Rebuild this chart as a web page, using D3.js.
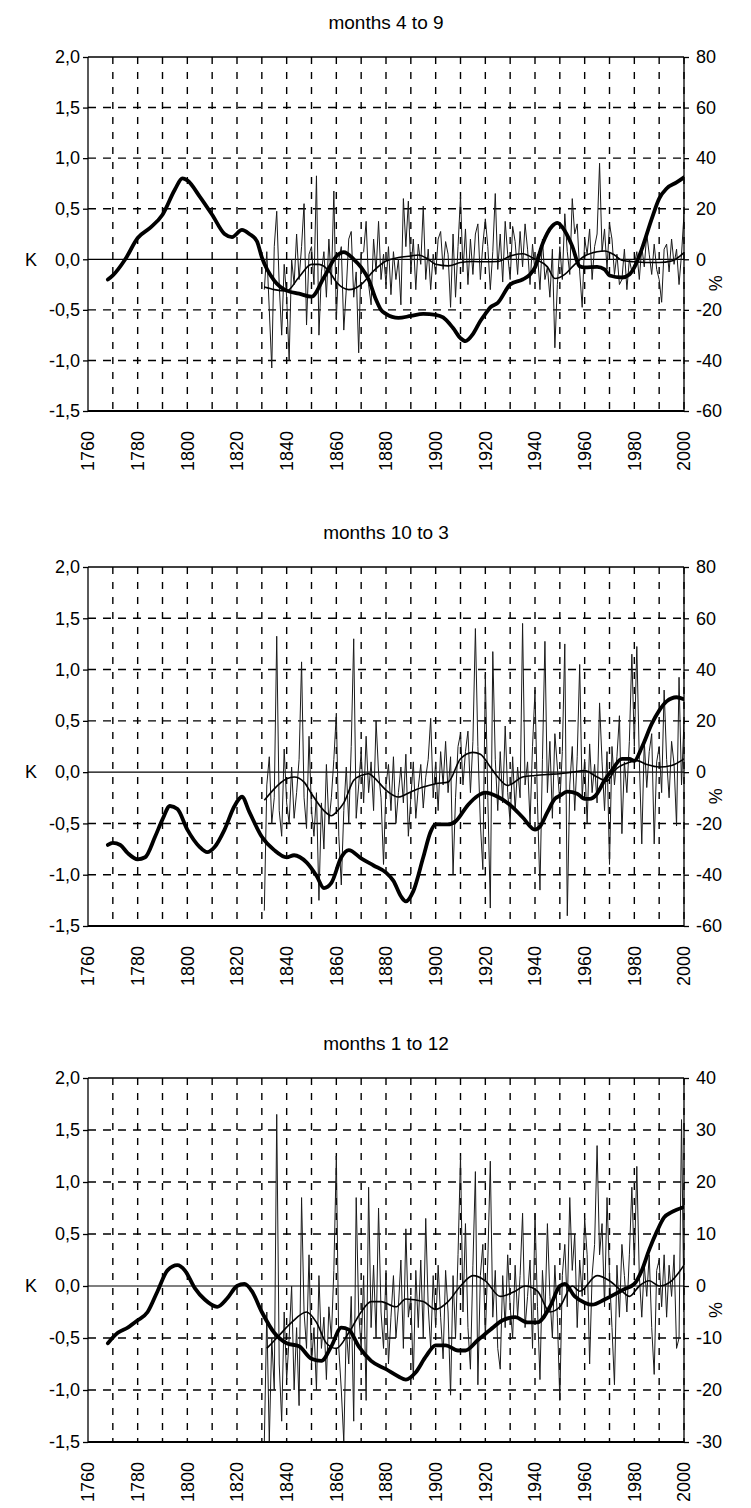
<!DOCTYPE html>
<html>
<head>
<meta charset="utf-8">
<script src="https://cdn.jsdelivr.net/npm/d3@7"></script>
<style>
body { margin: 0; background: #fff; }
svg { display: block; font-family: "Liberation Sans", Arial, sans-serif; }
</style>
</head>
<body>
<div id="chart"></div>
<script>
// tick labels and titles
var xTickLabels = [1760, 1780, 1800, 1820, 1840, 1860, 1880, 1900, 1920, 1940, 1960, 1980, 2000];
var gridYears = d3.range(1770, 2001, 10);
var kTicks = [2, 1.5, 1, 0.5, 0, -0.5, -1, -1.5];
var pctTicksHalf = [80, 60, 40, 20, 0, -20, -40, -60];
var pctTicksYear = [40, 30, 20, 10, 0, -10, -20, -30];
var titles = ["months 4 to 9", "months 10 to 3", "months 1 to 12"];
var firstPrecipYear = 1831;

// months 4 to 9 : smoothed temperature (K)
var tempYears1 = [1768,1770,1775,1780,1785,1790,1795,1798,1800,1805,1810,1815,1818,1822,1825,1828,1830,1835,1840,1845,1850,1855,1860,1863,1867,1870,1873,1876,1878,1880,1885,1890,1895,1900,1903,1907,1910,1912,1915,1918,1920,1922,1925,1930,1935,1938,1940,1943,1947,1949,1952,1955,1958,1960,1965,1968,1970,1975,1978,1980,1983,1987,1990,1993,1997,2000];
var temp1 = [-0.2,-0.16,0,0.21,0.31,0.44,0.69,0.8,0.78,0.62,0.44,0.25,0.22,0.29,0.25,0.18,0.02,-0.21,-0.31,-0.34,-0.37,-0.18,0.03,0.07,0,-0.08,-0.2,-0.4,-0.5,-0.54,-0.58,-0.56,-0.54,-0.55,-0.575,-0.68,-0.78,-0.81,-0.74,-0.61,-0.54,-0.475,-0.43,-0.25,-0.2,-0.15,-0.08,0.15,0.33,0.36,0.28,0.13,-0.07,-0.08,-0.075,-0.1,-0.16,-0.18,-0.15,-0.08,0.1,0.4,0.6,0.7,0.76,0.81];
// months 4 to 9 : smoothed precipitation (%)
var smoothYears1 = [1831,1835,1840,1845,1850,1853,1857,1860,1865,1870,1875,1880,1885,1890,1893,1897,1900,1905,1910,1915,1920,1925,1930,1935,1940,1945,1948,1952,1955,1960,1965,1968,1972,1975,1980,1985,1990,1995,2000];
var smooth1 = [-11,-12,-12.5,-7,-2,-2,-4.6,-9,-12,-10,-4.6,-0.7,0.7,1.3,1.7,0,-2,-2.6,-1.3,-0.9,-1,-0.9,1.3,2.2,0,-3,-7.6,-6,-3,1.3,3,3.3,1.7,-0.4,-1,-1.3,-1.3,-0.7,2.6];
// months 4 to 9 : yearly precipitation (%), 1831-2000
var precip1 = [
  -12, 3, -20, -43, 5, 19, -10, -30, -2, -15,
  -40, 0, -10, 10, -8, 5, 22, -26, 2, 5,
  -10, 33, -30, -5, 3, -15, 8, -10, 27, -24,
  0, 5, -28, -12, 8, 11, -15, -5, -37, 2,
  3, 15, -10, -18, 8, -5, 15, -8, 2, -10,
  5, -14, 3, -8, 0, -18, 24, 5, 23, -5,
  8, -12, 6, -2, 21, -8, 4, -12, 2, -6,
  8, 11, -4, 7, 2, -19, 10, -15, 5, 25,
  -5, 12, -10, 8, -6, 10, 14, -8, 6, 16,
  5, -12, 3, 26, -4, 10, -9, 15, 2, -8,
  13, 7, -6, 11, -3, 14, 4, -10, 6, -5,
  2, -12, 8, -8, -3, -15, 4, -35, -10, 5,
  -8, 18, 3, -6, 24, 10, 14, -5, -19, 8,
  2, 12, -8, 5, 10, 38, 3, 12, -4, 14,
  8, -6, 2, -10, -8, 4, -12, 0, -5, -2,
  3, -8, 5, -3, 10, 2, -6, 6, -4, -8,
  -17, 4, 6, -5, 8, -2, 4, -10, 2, 18
];

// months 10 to 3
var tempYears2 = [1768,1770,1773,1776,1780,1783,1787,1790,1793,1796,1800,1805,1808,1811,1815,1819,1822,1825,1830,1835,1840,1843,1848,1852,1855,1858,1862,1865,1870,1875,1880,1883,1886,1888,1891,1895,1898,1900,1905,1908,1913,1917,1920,1925,1930,1935,1940,1942,1945,1948,1950,1953,1957,1960,1962,1965,1968,1971,1975,1978,1980,1983,1987,1990,1993,1997,2000];
var temp2 = [-0.71,-0.69,-0.71,-0.79,-0.85,-0.83,-0.63,-0.46,-0.33,-0.36,-0.56,-0.73,-0.78,-0.73,-0.56,-0.33,-0.24,-0.39,-0.63,-0.76,-0.83,-0.81,-0.88,-1.01,-1.13,-1.08,-0.83,-0.76,-0.84,-0.91,-0.98,-1.06,-1.21,-1.26,-1.16,-0.83,-0.58,-0.51,-0.51,-0.48,-0.32,-0.23,-0.2,-0.24,-0.32,-0.44,-0.56,-0.53,-0.39,-0.26,-0.23,-0.19,-0.21,-0.26,-0.26,-0.21,-0.08,0.02,0.13,0.13,0.11,0.24,0.47,0.6,0.69,0.73,0.71];
var smoothYears2 = [1831,1835,1840,1843,1847,1850,1855,1858,1860,1863,1867,1870,1873,1875,1880,1885,1890,1895,1900,1905,1910,1915,1918,1922,1925,1929,1935,1940,1945,1950,1955,1960,1965,1969,1972,1977,1981,1985,1990,1995,2000];
var smooth2 = [-11,-6.5,-2.6,-1.9,-3.9,-8.4,-15,-17,-15.6,-12,-3.2,-1.3,-0.6,-1.9,-7,-9.7,-7.7,-5.8,-4.5,-3.9,5.2,7.7,7,2,-1.9,-5.2,-1.9,-1.3,-0.9,-0.6,0,0.6,-1.9,-3.5,0.6,3.5,4.5,3,2,2.6,5.2];
var precip2 = [
  -54, -5, 6, -20, -10, 53, -15, -25, 9, -12,
  -20, 2, -18, -8, 5, 43, -10, -22, 14, -15,
  -25, -8, -50, -12, -30, 3, -20, -10, 5, 23,
  -25, -44, -15, 2, -20, 10, 52, -18, -5, 8,
  -12, 14, -8, 4, -15, 20, 0, -10, -36, -5,
  3, -15, 6, -20, -8, 2, -12, 7, -25, -10,
  4, -18, -6, 3, -14, -2, 5, 21, -10, 4,
  -15, 8, -5, 12, -8, 6, -40, -10, 10, 15,
  -5, 8, 16, -8, 12, 56, 10, -20, -38, 38,
  -10, -53, 47, 5, -15, 8, -12, 18, -8, -20,
  6, -15, 2, -10, 58, -5, 4, -20, 10, 32,
  -12, -46, 5, 51, -8, 12, -18, 15, 2, -12,
  8, 50, -56, -5, 10, -15, 6, 42, -10, 5,
  -20, 11, -8, 3, -12, 27, 4, -15, 8, -36,
  10, -5, 6, 22, -24, 4, -8, 12, 46, 10,
  49, 5, -28, 12, -6, 8, 15, -28, 4, 10,
  -8, 32, 5, -10, 12, 3, -21, 37, -5, 20
];

// months 1 to 12
var tempYears3 = [1768,1772,1776,1780,1784,1788,1792,1796,1799,1803,1807,1812,1816,1820,1823,1826,1830,1835,1840,1845,1850,1854,1858,1862,1865,1869,1874,1880,1885,1888,1892,1896,1900,1904,1909,1912,1917,1922,1927,1932,1937,1941,1946,1950,1952,1956,1960,1963,1968,1972,1976,1980,1983,1986,1989,1992,1995,2000];
var temp3 = [-0.55,-0.45,-0.4,-0.33,-0.25,-0.05,0.15,0.2,0.15,-0.02,-0.13,-0.2,-0.12,0,0.02,-0.05,-0.25,-0.45,-0.55,-0.58,-0.7,-0.72,-0.58,-0.4,-0.42,-0.58,-0.72,-0.8,-0.87,-0.9,-0.83,-0.68,-0.57,-0.57,-0.62,-0.62,-0.52,-0.42,-0.33,-0.3,-0.35,-0.35,-0.2,0,0.02,-0.1,-0.16,-0.18,-0.13,-0.08,-0.03,0.02,0.15,0.35,0.52,0.66,0.71,0.76];
var smoothYears3 = [1832,1836,1842,1848,1852,1856,1860,1865,1870,1874,1878,1884,1888,1895,1900,1905,1910,1915,1920,1926,1932,1936,1941,1946,1950,1955,1958,1965,1970,1975,1978,1982,1986,1990,1995,2000];
var smooth3 = [-12,-10,-7,-5,-7,-11,-12,-9,-5,-3,-3,-4,-2.5,-3,-4.5,-3,0,2,1,-2,-1,0,-1,-5,-4,0,-1,2,1,-1,-2,0,1,0,1,4];
var precip3 = [
  -30, -5, -30, -10, -20, 33, -15, -26, -5, -18,
  -10, 0, -20, -8, -23, 17, -5, -12, 6, -15,
  -8, -20, 2, -12, -6, -18, -4, -10, 3, 25,
  -12, -20, -30, -8, -15, -2, -26, 17, -5, -12,
  2, -22, 19, -8, 4, -10, 15, -5, -12, 3,
  -15, -6, 2, -10, -4, 5, -12, 11, -6, -2,
  -18, 3, -8, 5, -10, 13, -4, -12, 2, -8,
  4, -6, -14, 3, -5, -21, 2, -10, 6, 25,
  -5, 12, -8, -16, 4, 22, -19, 2, 8, -10,
  5, 24, -6, 3, -12, -16, 2, -8, 6, -4,
  -10, 4, -6, 2, 14, -8, -2, 5, -12, 14,
  -4, -18, 3, -6, 12, -2, -10, 4, -6, -22,
  2, 8, -4, 17, 3, 10, -8, 5, -2, 13,
  6, -15, 2, 8, 27, 6, 12, -4, 17, 2,
  -8, -19, 4, -6, 8, 2, -5, 6, 19, 4,
  23, 2, -6, 4, -2, 6, -8, -17, 3, 5,
  -4, 6, -6, 4, -2, 6, -12, -10, 32, -5
];

var panels = [
  {title: titles[0], top: 57, height: 354, pctMin: -60, pctMax: 80, pctTicks: pctTicksHalf,
   tYears: tempYears1, temp: temp1, sYears: smoothYears1, smooth: smooth1, precip: precip1},
  {title: titles[1], top: 567, height: 359, pctMin: -60, pctMax: 80, pctTicks: pctTicksHalf,
   tYears: tempYears2, temp: temp2, sYears: smoothYears2, smooth: smooth2, precip: precip2},
  {title: titles[2], top: 1078, height: 364, pctMin: -30, pctMax: 40, pctTicks: pctTicksYear,
   tYears: tempYears3, temp: temp3, sYears: smoothYears3, smooth: smooth3, precip: precip3}
];

var svg = d3.select("#chart")
    .append("svg")
    .attr("width", 751)
    .attr("height", 1508);

var x = d3.scaleLinear().domain([1760, 2000]).range([88, 684]);
var loc = d3.formatLocale({decimal: ",", thousands: ".", grouping: [3], currency: ["", ""], minus: "-"});
var fmtK = loc.format(".1f");
var fmtP = loc.format("d");

panels.forEach(function(p, i) {
    var bottom = p.top + p.height;
    var yK = d3.scaleLinear().domain([-1.5, 2]).range([bottom, p.top]);
    var yP = d3.scaleLinear().domain([p.pctMin, p.pctMax]).range([bottom, p.top]);
    var g = svg.append("g");

    g.append("clipPath").attr("id", "clip" + i)
        .append("rect")
        .attr("x", x(1760)).attr("y", p.top)
        .attr("width", x(2000) - x(1760)).attr("height", p.height);

    g.append("text")
        .attr("x", (x(1760) + x(2000)) / 2)
        .attr("y", p.top - 28)
        .attr("text-anchor", "middle")
        .attr("font-size", 19)
        .text(p.title);

    // dashed grid
    g.selectAll(".hgrid")
        .data(kTicks.filter(function(d) { return d !== 0 && d !== 2 && d !== -1.5; }))
        .join("line")
        .attr("x1", x(1760)).attr("x2", x(2000))
        .attr("y1", function(d) { return yK(d); })
        .attr("y2", function(d) { return yK(d); })
        .attr("stroke", "#000").attr("stroke-width", 1.4)
        .attr("stroke-dasharray", "8,7");

    g.selectAll(".vgrid")
        .data(gridYears)
        .join("line")
        .attr("x1", function(d) { return x(d); })
        .attr("x2", function(d) { return x(d); })
        .attr("y1", p.top).attr("y2", bottom)
        .attr("stroke", "#000").attr("stroke-width", 1.4)
        .attr("stroke-dasharray", "7,8");

    g.append("line")
        .attr("x1", x(1760)).attr("x2", x(2000))
        .attr("y1", yK(0)).attr("y2", yK(0))
        .attr("stroke", "#000").attr("stroke-width", 1.2);

    var plot = g.append("g").attr("clip-path", "url(#clip" + i + ")");

    // yearly precipitation
    var rough = d3.line()
        .x(function(d, j) { return x(firstPrecipYear + j); })
        .y(function(d) { return yP(d); });
    plot.append("path")
        .datum(p.precip)
        .attr("d", rough)
        .attr("fill", "none")
        .attr("stroke", "#1a1a1a")
        .attr("stroke-width", 1)
        .attr("stroke-linejoin", "round");

    // smoothed precipitation
    var smoothLine = d3.line()
        .x(function(d, j) { return x(p.sYears[j]); })
        .y(function(d) { return yP(d); })
        .curve(d3.curveMonotoneX);
    plot.append("path")
        .datum(p.smooth)
        .attr("d", smoothLine)
        .attr("fill", "none")
        .attr("stroke", "#000")
        .attr("stroke-width", 1.6);

    // smoothed temperature
    var tempLine = d3.line()
        .x(function(d, j) { return x(p.tYears[j]); })
        .y(function(d) { return yK(d); })
        .curve(d3.curveMonotoneX);
    plot.append("path")
        .datum(p.temp)
        .attr("d", tempLine)
        .attr("fill", "none")
        .attr("stroke", "#000")
        .attr("stroke-width", 3.8)
        .attr("stroke-linejoin", "round")
        .attr("stroke-linecap", "round");

    // frame
    g.append("line").attr("x1", x(1760)).attr("x2", x(2000)).attr("y1", p.top).attr("y2", p.top)
        .attr("stroke", "#000").attr("stroke-width", 1.5);
    g.append("line").attr("x1", x(1760)).attr("x2", x(2000)).attr("y1", bottom).attr("y2", bottom)
        .attr("stroke", "#000").attr("stroke-width", 2.2);
    g.append("line").attr("x1", x(1760)).attr("x2", x(1760)).attr("y1", p.top).attr("y2", bottom)
        .attr("stroke", "#000").attr("stroke-width", 1.3);
    g.append("line").attr("x1", x(2000)).attr("x2", x(2000)).attr("y1", p.top).attr("y2", bottom)
        .attr("stroke", "#000").attr("stroke-width", 1.3);

    // axes
    var left = g.append("g")
        .attr("transform", "translate(" + x(1760) + ",0)")
        .call(d3.axisLeft(yK).tickValues(kTicks).tickFormat(fmtK).tickSize(5).tickPadding(3));
    var right = g.append("g")
        .attr("transform", "translate(" + x(2000) + ",0)")
        .call(d3.axisRight(yP).tickValues(p.pctTicks).tickFormat(fmtP).tickSize(5).tickPadding(7));
    [left, right].forEach(function(a) {
        a.select(".domain").remove();
        a.attr("font-size", 18).attr("font-family", null);
        a.selectAll("text").attr("fill", "#000");
        a.selectAll("line").attr("stroke", "#000").attr("stroke-width", 1.3);
    });

    g.selectAll(".xlab")
        .data(xTickLabels)
        .join("text")
        .attr("transform", function(d) { return "translate(" + x(d) + "," + (bottom + 20) + ") rotate(-90)"; })
        .attr("text-anchor", "end")
        .attr("dy", "0.35em")
        .attr("font-size", 18)
        .text(function(d) { return d; });

    g.append("text")
        .attr("x", 31).attr("y", yK(0))
        .attr("dy", "0.35em")
        .attr("text-anchor", "middle")
        .attr("font-size", 18)
        .text("K");

    g.append("text")
        .attr("transform", "translate(716," + (yK(0) + 24) + ") rotate(-90)")
        .attr("dy", "0.35em")
        .attr("text-anchor", "middle")
        .attr("font-size", 18)
        .text("%");
});
</script>
</body>
</html>
